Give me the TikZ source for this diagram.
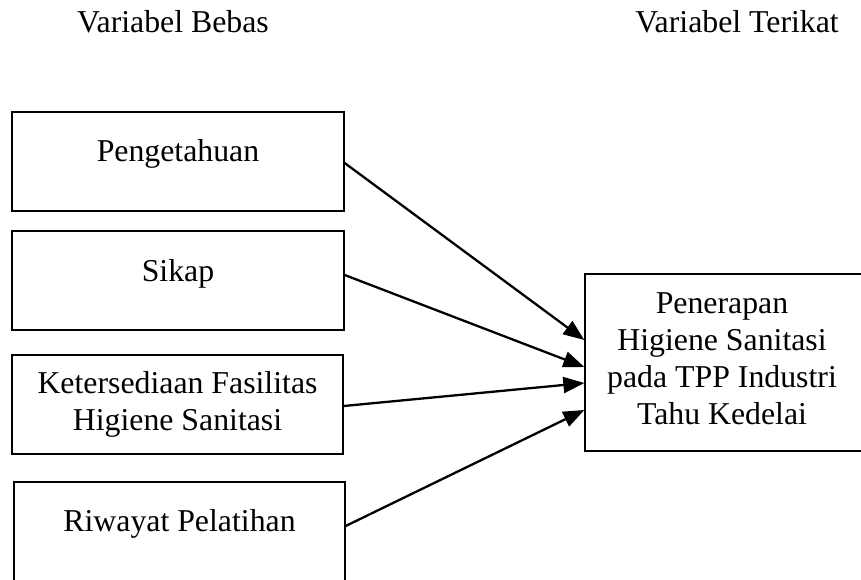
\documentclass[tikz,border=0pt]{standalone}
\usepackage{fontspec}
\setmainfont{Liberation Serif}
\usetikzlibrary{arrows.meta,calc}
\begin{document}
\begin{tikzpicture}[x=1pt,y=-1pt,
  box/.style={draw,line width=1.3pt,minimum width=#1,minimum height=99pt,inner sep=0pt,anchor=center},
  lbl/.style={font=\fontsize{31.8}{37}\selectfont,align=center,inner sep=0pt,anchor=base},
  conn/.style={line width=2.3pt,-{Triangle[length=21pt,width=16pt]}}]
\useasboundingbox (0,0) rectangle (861,580);
\clip (0,0) rectangle (861,580);
\node[lbl] (hb) at (173,33) {Variabel Bebas};
\node[lbl] (ht) at (737,33) {Variabel Terikat};
\node[box=332pt] (b1) at (178,161.5) {};
\node[box=332pt] (b2) at (178,280.5) {};
\node[box=331pt] (b3) at (177.5,404.5) {};
\node[box=331pt] (b4) at (179.5,531.5) {};
\node[box=290pt,minimum height=177pt] (r) at (730,362.5) {};
\node[lbl] (t1) at (178,161) {Pengetahuan};
\node[lbl] (t2) at (178,281) {Sikap};
\node[lbl] (t3) at (177.5,430) {Ketersediaan Fasilitas\\Higiene Sanitasi};
\node[lbl] (t4) at (179.5,531) {Riwayat Pelatihan};
\node[lbl] (tr) at (722,424) {Penerapan\\Higiene Sanitasi\\pada TPP Industri\\Tahu Kedelai};
\draw[conn] ($(b1.east)+(0,1.5)$) -- ($(r.west)+(0,-22.5)$);
\draw[conn] ($(b2.east)+(0,-5.5)$) -- ($(r.west)+(0,4.5)$);
\draw[conn] ($(b3.east)+(0,1.5)$) -- ($(r.west)+(0,20.5)$);
\draw[conn] ($(b4.east)+(0,-5.5)$) -- ($(r.west)+(0,47.5)$);
\end{tikzpicture}
\end{document}
